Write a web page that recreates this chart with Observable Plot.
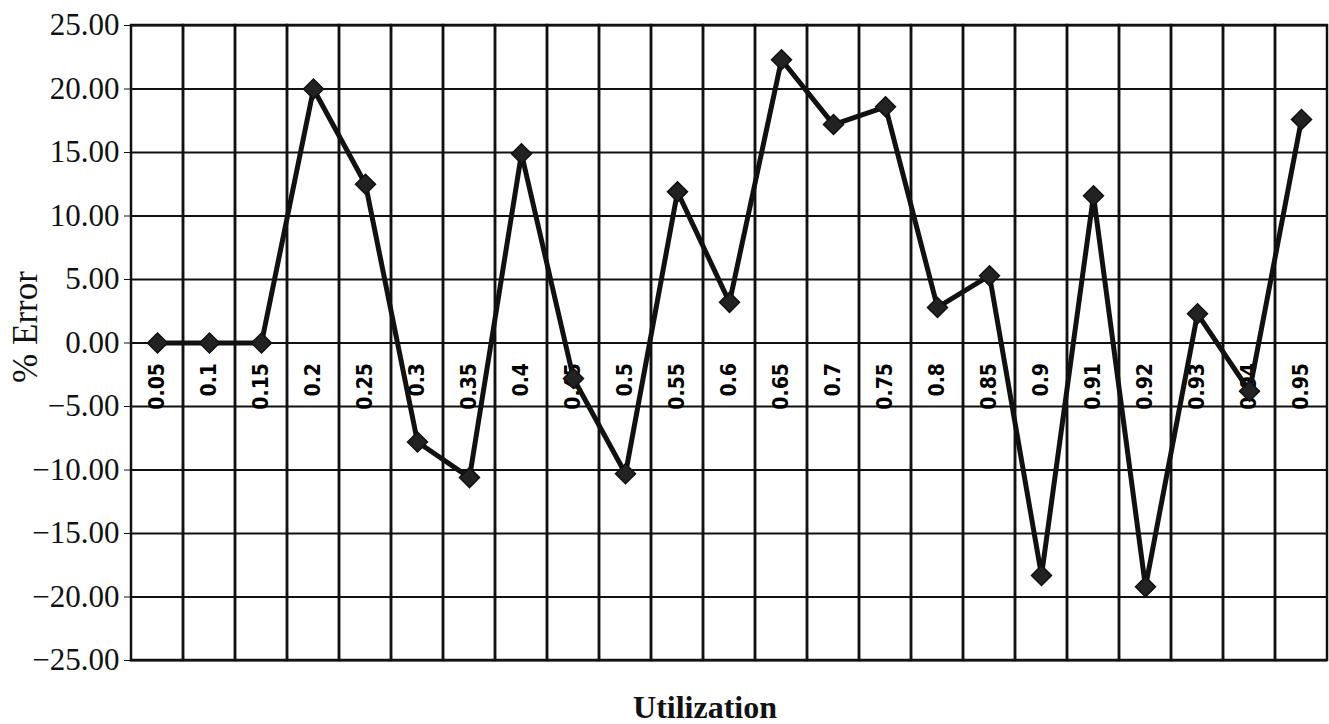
<!DOCTYPE html>
<html><head><meta charset="utf-8">
<script src="https://cdn.jsdelivr.net/npm/d3@7"></script>
<script src="https://cdn.jsdelivr.net/npm/@observablehq/plot@0.6"></script>
<style>body{margin:0;background:#fff}</style>
</head><body><div id="chart"></div>
<script>
const utilization = ["0.05","0.1","0.15","0.2","0.25","0.3","0.35","0.4","0.45","0.5","0.55","0.6","0.65","0.7","0.75","0.8","0.85","0.9","0.91","0.92","0.93","0.94","0.95"];
const percentError = [0, 0, 0, 20.0, 12.5, -7.8, -10.6, 14.9, -2.8, -10.3, 11.9, 3.2, 22.3, 17.2, 18.6, 2.8, 5.3, -18.3, 11.6, -19.2, 2.3, -3.8, 17.6];
const yTicks = [-25, -20, -15, -10, -5, 0, 5, 10, 15, 20, 25];

const data = utilization.map((u, i) => ({u, e: percentError[i]}));
const serif = "'Liberation Serif', 'DejaVu Serif', serif";
const narrow = "'DejaVu Sans Condensed', 'Liberation Sans Narrow', 'Roboto Condensed', sans-serif";

const chart = Plot.plot({
  width: 1329, height: 724,
  marginLeft: 130, marginRight: 2, marginTop: 25, marginBottom: 64,
  style: {fontFamily: serif, fontSize: "31px", color: "#111", background: "#fff"},
  x: {domain: utilization, padding: 0, axis: null},
  y: {domain: [-25, 25], ticks: 10, tickFormat: d3.format(".2f"), tickSize: 6, tickPadding: 5, label: null},
  marks: [
    Plot.ruleY(yTicks, {stroke: "#111", strokeWidth: 2}),
    Plot.barY(utilization, {x: d => d, y1: -25, y2: 25, fill: "none", stroke: "#111", strokeWidth: 2.5}),
    Plot.text(utilization, {x: d => d, y: 0, text: d => d, rotate: -90, textAnchor: "end", dy: 20,
      fontFamily: narrow, fontSize: 21, fontWeight: "bold", fill: "#000"}),
    Plot.line(data, {x: "u", y: "e", stroke: "#111", strokeWidth: 5}),
    Plot.dot(data, {x: "u", y: "e", symbol: "diamond2", r: 9, fill: "#222", stroke: "#111", strokeWidth: 1.5}),
    Plot.text(["Utilization"], {frameAnchor: "bottom", textAnchor: "middle", lineAnchor: "bottom", dy: 57, dx: -24,
      fontFamily: serif, fontSize: 32, fontWeight: 600, fill: "#111"}),
    Plot.text(["% Error"], {frameAnchor: "left", textAnchor: "middle", lineAnchor: "middle", rotate: -90, dx: -105, dy: -16,
      fontFamily: serif, fontSize: 35, fill: "#111"})
  ]
});
document.getElementById("chart").appendChild(chart);
</script>
</body></html>
